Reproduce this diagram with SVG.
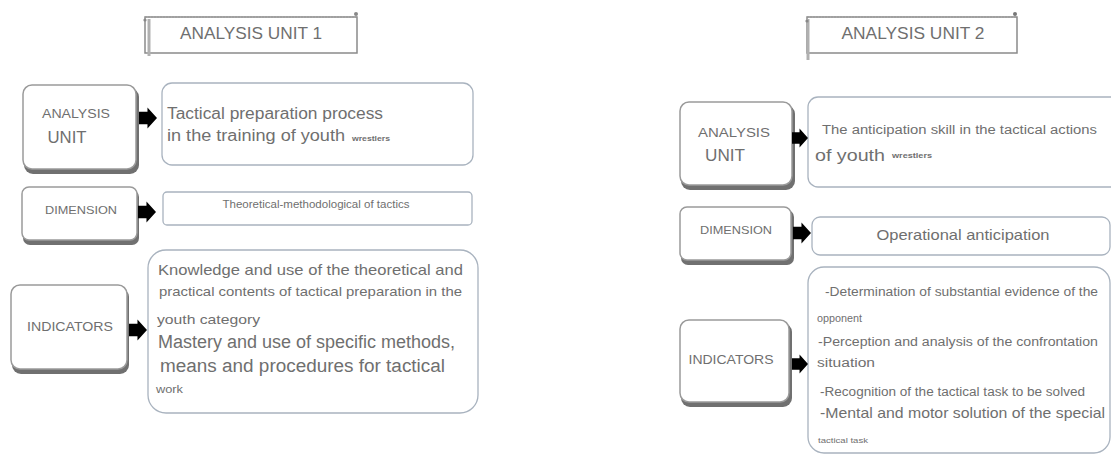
<svg xmlns="http://www.w3.org/2000/svg" width="1111" height="456" viewBox="0 0 1111 456">
<defs>
<style>
.lbox{fill:#fff;stroke:#9a9a9a;stroke-width:1.5}
.shadow{fill:#707070}
.rbox{fill:#fff;stroke:#a9b3bf;stroke-width:1.3}
.title{fill:#fff;stroke:#8a8a8a;stroke-width:1.5}
.t{font-family:"Liberation Sans",Arial,sans-serif;fill:#6f6f6f}
.arrow{fill:#000}
</style>
<symbol id="arr" viewBox="0 0 17 20" overflow="visible">
<path d="M0,4 H8 V0 L17,10 L8,20 V16 H0 Z"/>
</symbol>
</defs>
<rect width="1111" height="456" fill="#fff"/>

<!-- Titles -->
<g id="title1">
<rect class="title" x="145" y="17" width="212" height="36"/>
<line x1="149" y1="19" x2="149" y2="56" stroke="#b0b0b0" stroke-width="3"/>
<line x1="145" y1="17" x2="357" y2="17" stroke="#999" stroke-width="1" stroke-dasharray="2,1"/>
<circle cx="356" cy="14" r="2" fill="#888"/>
<circle cx="145" cy="20" r="1.6" fill="#888"/>
<text class="t" x="251" y="39" font-size="16.5" text-anchor="middle" fill="#555" textLength="142" lengthAdjust="spacingAndGlyphs">ANALYSIS UNIT 1</text>
</g>
<g id="title2">
<rect class="title" x="807" y="17" width="210" height="36"/>
<line x1="808" y1="19" x2="808" y2="60" stroke="#b0b0b0" stroke-width="3"/>
<line x1="807" y1="17" x2="1017" y2="17" stroke="#999" stroke-width="1" stroke-dasharray="2,1"/>
<circle cx="1015" cy="14" r="2" fill="#777"/>
<circle cx="807" cy="21" r="1.6" fill="#888"/>
<text class="t" x="913" y="39" font-size="16.5" text-anchor="middle" fill="#5a5f6a" textLength="143" lengthAdjust="spacingAndGlyphs">ANALYSIS UNIT 2</text>
</g>

<!-- Left column -->
<g id="au1">
<rect class="shadow" x="24" y="88" width="115" height="86" rx="9"/>
<rect class="lbox" x="23" y="85" width="113" height="84" rx="9"/>
<text class="t" x="76" y="118" font-size="13.5" text-anchor="middle" textLength="68" lengthAdjust="spacingAndGlyphs">ANALYSIS</text>
<text class="t" x="67" y="143" font-size="16" text-anchor="middle" textLength="39" lengthAdjust="spacingAndGlyphs">UNIT</text>
</g>
<g id="au1-content">
<rect class="rbox" x="162" y="83" width="311" height="82" rx="10"/>
<text class="t" x="167" y="119" font-size="16" textLength="216" lengthAdjust="spacingAndGlyphs">Tactical preparation process</text>
<text class="t" x="167" y="141" font-size="16" textLength="178" lengthAdjust="spacingAndGlyphs">in the training of youth</text>
<text class="t" x="352" y="141" font-size="7.5" font-weight="bold" fill="#333" textLength="38" lengthAdjust="spacingAndGlyphs">wrestlers</text>
</g>

<g id="dim1">
<rect class="shadow" x="23" y="190" width="116" height="55" rx="7"/>
<rect class="lbox" x="22" y="187" width="115" height="53" rx="7"/>
<text class="t" x="81" y="214" font-size="11.5" text-anchor="middle" textLength="72" lengthAdjust="spacingAndGlyphs">DIMENSION</text>
</g>
<g id="dim1-content">
<rect class="rbox" x="163" y="192" width="309" height="33" rx="4"/>
<text class="t" x="316" y="208" font-size="10" text-anchor="middle" fill="#9a7c68" textLength="187" lengthAdjust="spacingAndGlyphs">Theoretical-methodological of tactics</text>
</g>

<g id="ind1">
<rect class="shadow" x="12" y="288" width="117" height="86" rx="9"/>
<rect class="lbox" x="11" y="285" width="116" height="84" rx="9"/>
<text class="t" x="70" y="331" font-size="13" text-anchor="middle" textLength="86" lengthAdjust="spacingAndGlyphs">INDICATORS</text>
</g>
<g id="ind1-content">
<rect class="rbox" x="148" y="250" width="330" height="163" rx="18"/>
<text class="t" x="158" y="275" font-size="15" textLength="305" lengthAdjust="spacingAndGlyphs">Knowledge and use of the theoretical and</text>
<text class="t" x="159" y="296" font-size="13" textLength="303" lengthAdjust="spacingAndGlyphs">practical contents of tactical preparation in the</text>
<text class="t" x="157" y="324" font-size="13" textLength="103" lengthAdjust="spacingAndGlyphs">youth category</text>
<text class="t" x="158" y="348" font-size="18" textLength="297" lengthAdjust="spacingAndGlyphs">Mastery and use of specific methods,</text>
<text class="t" x="160" y="372" font-size="18" textLength="285" lengthAdjust="spacingAndGlyphs">means and procedures for tactical</text>
<text class="t" x="156" y="393" font-size="10" textLength="27" lengthAdjust="spacingAndGlyphs">work</text>
</g>

<!-- Right column -->
<g id="au2">
<rect class="shadow" x="681" y="105" width="114" height="85" rx="9"/>
<rect class="lbox" x="680" y="102" width="112" height="83" rx="9"/>
<text class="t" x="734" y="137" font-size="13.5" text-anchor="middle" textLength="72" lengthAdjust="spacingAndGlyphs">ANALYSIS</text>
<text class="t" x="725" y="161" font-size="16" text-anchor="middle" textLength="40" lengthAdjust="spacingAndGlyphs">UNIT</text>
</g>
<g id="au2-content">
<rect class="rbox" x="808" y="97" width="320" height="90" rx="10"/>
<text class="t" x="822" y="134" font-size="12" textLength="275" lengthAdjust="spacingAndGlyphs">The anticipation skill in the tactical actions</text>
<text class="t" x="815" y="161" font-size="17" textLength="70" lengthAdjust="spacingAndGlyphs">of youth</text>
<text class="t" x="892" y="158" font-size="7.5" font-weight="bold" fill="#333" textLength="40" lengthAdjust="spacingAndGlyphs">wrestlers</text>
</g>

<g id="dim2">
<rect class="shadow" x="681" y="210" width="113" height="55" rx="7"/>
<rect class="lbox" x="680" y="207" width="111" height="53" rx="7"/>
<text class="t" x="736" y="234" font-size="11.5" text-anchor="middle" textLength="72" lengthAdjust="spacingAndGlyphs">DIMENSION</text>
</g>
<g id="dim2-content">
<rect class="rbox" x="812" y="217" width="298" height="38" rx="8"/>
<text class="t" x="963" y="240" font-size="15" text-anchor="middle" textLength="173" lengthAdjust="spacingAndGlyphs">Operational anticipation</text>
</g>

<g id="ind2">
<rect class="shadow" x="681" y="323" width="111" height="84" rx="9"/>
<rect class="lbox" x="680" y="320" width="109" height="82" rx="9"/>
<text class="t" x="731" y="364" font-size="13" text-anchor="middle" textLength="85" lengthAdjust="spacingAndGlyphs">INDICATORS</text>
</g>
<g id="ind2-content">
<rect class="rbox" x="808" y="267" width="302" height="186" rx="16"/>
<text class="t" x="825" y="296" font-size="12.5" textLength="273" lengthAdjust="spacingAndGlyphs">-Determination of substantial evidence of the</text>
<text class="t" x="817" y="322" font-size="11" textLength="45" lengthAdjust="spacingAndGlyphs">opponent</text>
<text class="t" x="818" y="346" font-size="12.5" textLength="280" lengthAdjust="spacingAndGlyphs">-Perception and analysis of the confrontation</text>
<text class="t" x="817" y="367" font-size="12" fill="#6d7590" textLength="58" lengthAdjust="spacingAndGlyphs">situation</text>
<text class="t" x="820" y="396" font-size="12" textLength="265" lengthAdjust="spacingAndGlyphs">-Recognition of the tactical task to be solved</text>
<text class="t" x="820" y="418" font-size="15" textLength="285" lengthAdjust="spacingAndGlyphs">-Mental and motor solution of the special</text>
<text class="t" x="818" y="443" font-size="7.5" fill="#6a74aa" textLength="50" lengthAdjust="spacingAndGlyphs">tactical task</text>
</g>

<!-- Connectors -->
<g id="connectors" class="arrow">
<use href="#arr" x="139" y="107" width="18" height="22"/>
<use href="#arr" x="138" y="201" width="18" height="22"/>
<use href="#arr" x="129" y="318" width="18" height="24"/>
<use href="#arr" x="792" y="126" width="16" height="24"/>
<use href="#arr" x="793" y="221" width="18" height="24"/>
<use href="#arr" x="792" y="352" width="16" height="24"/>
</g>
</svg>
